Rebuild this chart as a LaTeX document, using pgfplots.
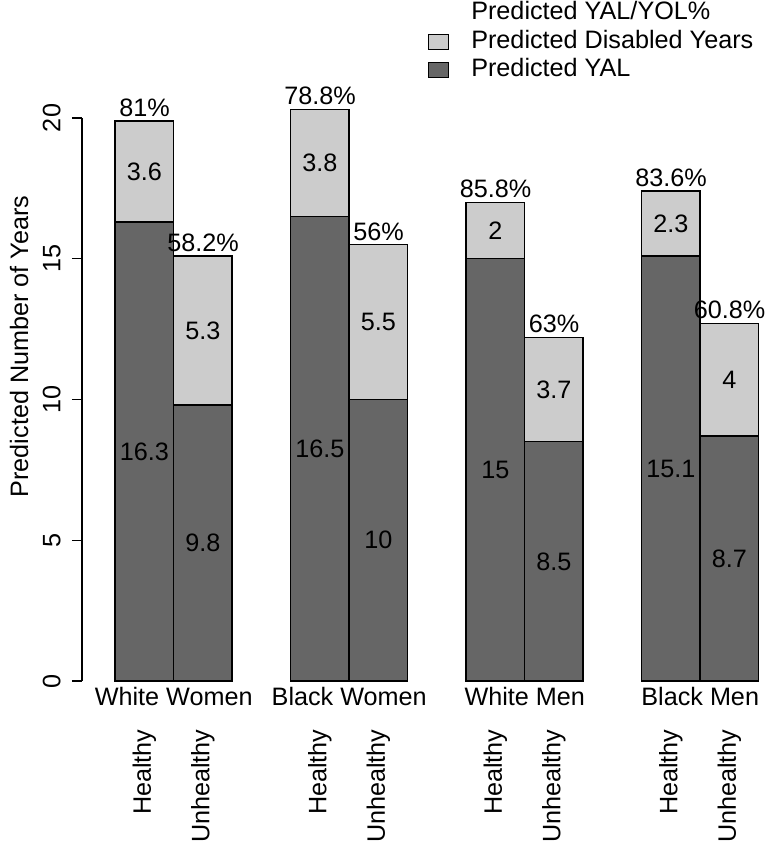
\documentclass[border=0pt,12pt]{standalone}
\usepackage{fontspec}
\setmainfont{Liberation Sans}
\usepackage{graphicx}
\usepackage{pgfplots}
\usepackage{pgfplotstable}
\pgfplotsset{compat=1.18}
\definecolor{darkbar}{RGB}{102,102,102}
\definecolor{lightbar}{RGB}{204,204,204}
\newcommand{\chartfont}{\fontsize{12.6}{15}\selectfont}

\pgfplotstableread{
x yal dis pct
0 16.3 3.6 81
1 9.8 5.3 58.2
3 16.5 3.8 78.8
4 10 5.5 56
6 15 2 85.8
7 8.5 3.7 63
9 15.1 2.3 83.6
10 8.7 4 60.8
}\data

\begin{document}
\begin{tikzpicture}
\useasboundingbox (-41pt,-80pt) rectangle (344.5pt,340.5pt);
\begin{axis}[
  at={(0pt,0pt)}, anchor=south west,
  scale only axis,
  x=29.25pt, y=14.075pt,
  xmin=-1.068, xmax=10.71, ymin=0, ymax=20,
  clip=false,
  axis lines*=left,
  x axis line style={draw=none},
  y axis line style={line width=0.75pt},
  tick align=outside,
  major tick length=5pt,
  ytick={0,5,10,15,20},
  ytick style={black, line width=0.75pt},
  xtick style={draw=none},
  /pgf/number format/assume math mode=true,
  font=\chartfont,
  yticklabel style={xshift=-5.5pt, rotate=90, anchor=south, inner sep=0pt, font=\chartfont},
  xtick={0,1,3,4,6,7,9,10},
  xticklabels={\rotatebox{90}{Healthy},\rotatebox{90}{Unhealthy},\rotatebox{90}{Healthy},\rotatebox{90}{Unhealthy},\rotatebox{90}{Healthy},\rotatebox{90}{Unhealthy},\rotatebox{90}{Healthy},\rotatebox{90}{Unhealthy}},
  xticklabel style={anchor=north, inner sep=0pt, yshift=-19pt, font=\chartfont},
  extra x ticks={0.5,3.5,6.5,9.5},
  extra x tick labels={White Women,Black Women,White Men,Black Men},
  extra x tick style={xticklabel style={yshift=21pt}, tick style={draw=none}},
  ylabel={Predicted Number of Years},
  ylabel style={at={(axis description cs:-0.0914,0.594)}, anchor=center, rotate=0, font=\chartfont},
  legend style={at={(axis description cs:0.502,1.2085)}, anchor=north west, draw=none, fill=none,
    inner sep=0pt, row sep=1.9pt, column sep=11pt,
    nodes={inner sep=0pt, text height=9.3pt, text depth=3pt},
    font=\chartfont},
  legend cell align=left,
]
\addlegendimage{empty legend}
\addlegendentry{Predicted YAL/YOL\%}
\addlegendimage{legend image code/.code={\draw[fill=lightbar, draw=black, line width=0.5pt] (0pt,-3.75pt) rectangle (10pt,3.75pt);}}
\addlegendentry{Predicted Disabled Years}
\addlegendimage{legend image code/.code={\draw[fill=darkbar, draw=black, line width=0.5pt] (0pt,-3.75pt) rectangle (10pt,3.75pt);}}
\addlegendentry{Predicted YAL}

\addplot[ybar, bar width=1, bar shift=0pt, fill=lightbar, draw=black, line width=0.75pt, forget plot]
  table[x=x, y expr=\thisrow{yal}+\thisrow{dis}] {\data};
\addplot[ybar, bar width=1, bar shift=0pt, fill=darkbar, draw=black, line width=0.75pt, forget plot]
  table[x=x, y=yal] {\data};

\addplot[draw=none, mark=none, forget plot, nodes near coords, point meta=explicit,
  nodes near coords style={anchor=center, inner sep=0pt, font=\chartfont}]
  table[x=x, y expr=\thisrow{yal}/2, meta=yal] {\data};
\addplot[draw=none, mark=none, forget plot, nodes near coords, point meta=explicit,
  nodes near coords style={anchor=center, inner sep=0pt, font=\chartfont}]
  table[x=x, y expr=\thisrow{yal}+\thisrow{dis}/2, meta=dis] {\data};
\addplot[draw=none, mark=none, forget plot, point meta=explicit,
  nodes near coords={\pgfmathprintnumber{\pgfplotspointmeta}\%},
  nodes near coords style={anchor=south, inner sep=0pt, yshift=2pt, font=\chartfont}]
  table[x=x, y expr=\thisrow{yal}+\thisrow{dis}, meta=pct] {\data};
\end{axis}
\end{tikzpicture}
\end{document}
